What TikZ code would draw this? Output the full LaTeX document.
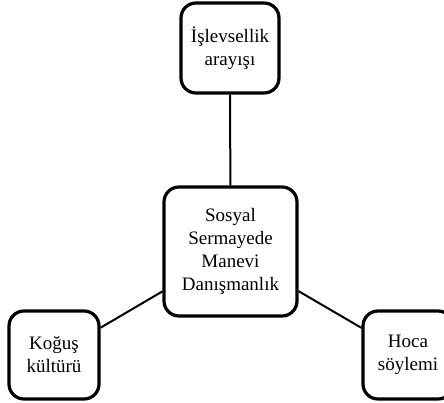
\documentclass[tikz,border=0pt]{standalone}
\usepackage{fontspec}
\setmainfont{Liberation Serif}
\begin{document}
\begin{tikzpicture}[x=1pt,y=1pt,
  box/.style={draw, line width=3.2pt, rounded corners=15pt, fill=white,
    align=center, inner sep=0pt, font=\fontsize{19}{22.8}\selectfont},
  link/.style={line width=2pt}]
\clip (0,0) rectangle (444,402);
\fill[white] (0,0) rectangle (444,402);
\node[box, minimum width=98pt, minimum height=90pt] (top) at (230,354) {İşlevsellik\\arayışı};
\node[box, minimum width=133pt, minimum height=129pt] (mid) at (230.5,150.5) {Sosyal\\Sermayede\\Manevi\\Danışmanlık};
\node[box, minimum width=90pt, minimum height=88pt] (left) at (54,47) {Koğuş\\kültürü};
\node[box, minimum width=90pt, minimum height=88pt] (right) at (408,47) {Hoca\\söylemi};
\draw[link] (top) -- (mid);
\draw[link] (mid) -- (left);
\draw[link] (mid) -- (right);
\end{tikzpicture}
\end{document}
